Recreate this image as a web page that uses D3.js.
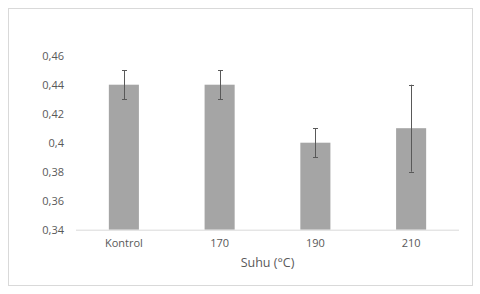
<!DOCTYPE html>
<html>
<head>
<meta charset="utf-8">
<script src="https://cdn.jsdelivr.net/npm/d3@7"></script>
<style>
  body { margin: 0; background: #fff; }
  #chart { width: 480px; height: 294px; }
  text { font-family: "Open Sans", "Liberation Sans", sans-serif; }
</style>
</head>
<body>
<div id="chart"></div>
<script>
const categories = ["Kontrol", "170", "190", "210"];
const values = [0.44, 0.44, 0.40, 0.41];
const errLow = [0.43, 0.43, 0.39, 0.38];
const errHigh = [0.45, 0.45, 0.41, 0.44];
const yTicks = [0.34, 0.36, 0.38, 0.40, 0.42, 0.44, 0.46];

const width = 480, height = 294;
const margin = { top: 55.7, right: 21, bottom: 64.3, left: 76 };

const svg = d3.select("#chart").append("svg")
    .attr("width", width)
    .attr("height", height);

// chart border
svg.append("rect")
    .attr("x", 8.5).attr("y", 8.5)
    .attr("width", 464).attr("height", 277)
    .attr("fill", "#fff")
    .attr("stroke", "#d9d9d9");

const x = d3.scaleBand()
    .domain(categories)
    .range([margin.left, width - margin.right])
    .paddingInner(0.686)
    .paddingOuter(0.343);

const y = d3.scaleLinear()
    .domain([0.34, 0.46])
    .range([height - margin.bottom, margin.top]);

const fmt = v => d3.format("")(+v.toFixed(2)).replace(".", ",");

// y labels
svg.append("g")
    .selectAll("text")
    .data(yTicks)
    .join("text")
    .attr("x", 64)
    .attr("y", d => y(d))
    .attr("dy", "0.35em")
    .attr("text-anchor", "end")
    .attr("fill", "#595959")
    .style("font-size", "11px")
    .text(fmt);

// bars
svg.append("g")
    .selectAll("rect")
    .data(values)
    .join("rect")
    .attr("x", (d, i) => x(categories[i]))
    .attr("y", d => y(d))
    .attr("width", x.bandwidth())
    .attr("height", d => y(0.34) - y(d))
    .attr("fill", "#a5a5a5");

// baseline
svg.append("line")
    .attr("x1", margin.left).attr("x2", width - margin.right)
    .attr("y1", y(0.34) + 0.5).attr("y2", y(0.34) + 0.5)
    .attr("stroke", "#d9d9d9");

// error bars
const eb = svg.append("g").attr("stroke", "#595959").attr("stroke-width", 1);
categories.forEach((c, i) => {
    const cx = Math.round(x(c) + x.bandwidth() / 2) + 0.5;
    eb.append("line").attr("x1", cx).attr("x2", cx)
        .attr("y1", y(errLow[i])).attr("y2", y(errHigh[i]));
    [errLow[i], errHigh[i]].forEach(v => {
        eb.append("line").attr("x1", cx - 2.5).attr("x2", cx + 2.5)
            .attr("y1", Math.round(y(v)) + 0.5).attr("y2", Math.round(y(v)) + 0.5);
    });
});

// x labels
svg.append("g")
    .selectAll("text")
    .data(categories)
    .join("text")
    .attr("x", d => x(d) + x.bandwidth() / 2)
    .attr("y", 247)
    .attr("text-anchor", "middle")
    .attr("fill", "#595959")
    .style("font-size", "11px")
    .text(d => d);

// axis title
svg.append("text")
    .attr("x", 267.5)
    .attr("y", 267)
    .attr("text-anchor", "middle")
    .attr("fill", "#595959")
    .style("font-size", "12.5px")
    .text("Suhu (°C)");
</script>
</body>
</html>
